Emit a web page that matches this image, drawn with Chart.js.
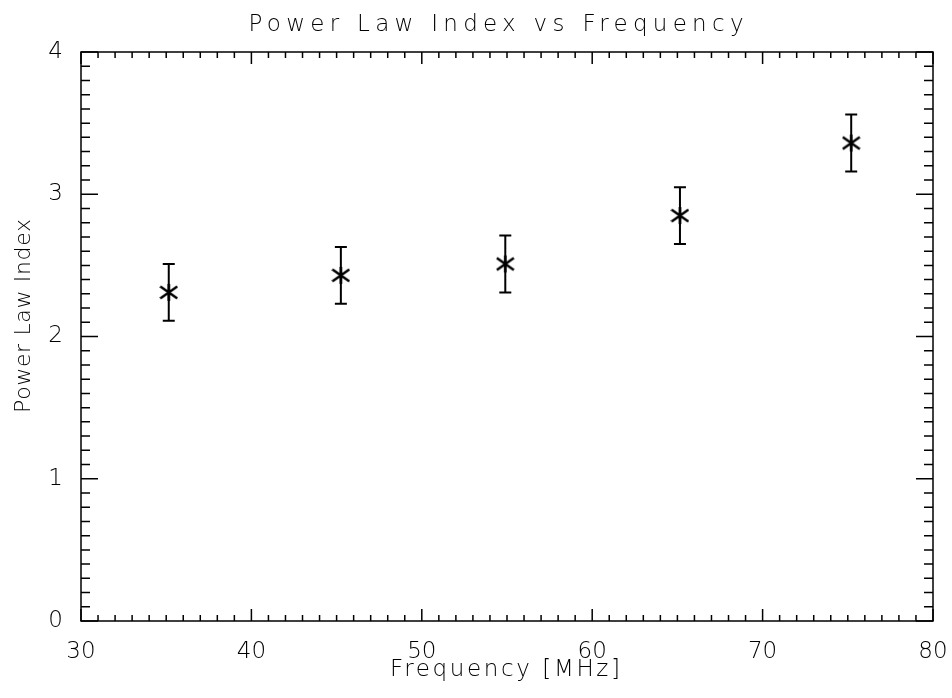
<!DOCTYPE html>
<html>
<head>
<meta charset="utf-8">
<title>Power Law Index vs Frequency</title>
<script src="https://cdn.jsdelivr.net/npm/chart.js@4.4.1/dist/chart.umd.min.js"></script>
<style>
    html, body { margin: 0; padding: 0; background: #fff; }
    #wrap { width: 952px; height: 698px; }
</style>
</head>
<body>
<div id="wrap"><canvas id="chart" width="952" height="698"></canvas></div>
<script>
// values
const frequencies = [35.15, 45.25, 54.9, 65.15, 75.2];   // MHz
const powerIndex = [2.31, 2.43, 2.51, 2.85, 3.36];
const indexError = [0.2, 0.2, 0.2, 0.2, 0.2];

const xRange = [30, 80];
const yRange = [0, 4];
const xMajorStep = 10;
const yMajorStep = 1;
const xMinorPerMajor = 10;
const yMinorPerMajor = 10;

const titleText = "Power Law Index vs Frequency";
const xTitleText = "Frequency [MHz]";
const yTitleText = "Power Law Index";

const FONT = "'DejaVu Sans', sans-serif";
const INK = "#000";

// asterisk marker, drawn once on a small canvas
function makeAsterisk(size) {
    const c = document.createElement("canvas");
    c.width = size;
    c.height = size;
    const g = c.getContext("2d");
    const h = size / 2;
    g.strokeStyle = INK;
    g.lineWidth = 2.5;
    g.beginPath();
    g.moveTo(h, 1); g.lineTo(h, size - 1);
    g.moveTo(1, h - 6); g.lineTo(size - 1, h + 6);
    g.moveTo(1, h + 6); g.lineTo(size - 1, h - 6);
    g.stroke();
    return c;
}

// draws text stretched to a target width with letter spacing
function spacedText(ctx, text, x, y, width, size) {
    ctx.font = "200 " + size + "px " + FONT;
    ctx.letterSpacing = "0px";
    const w0 = ctx.measureText(text).width;
    const s = Math.max(0, (width - w0) / (text.length - 1));
    ctx.letterSpacing = s + "px";
    ctx.textAlign = "left";
    ctx.textBaseline = "middle";
    ctx.fillText(text, x - width / 2, y);
    ctx.letterSpacing = "0px";
}

const errorBars = {
    id: "errorBars",
    beforeDatasetsDraw(chart) {
        const { ctx, scales } = chart;
        ctx.save();
        ctx.strokeStyle = INK;
        ctx.lineWidth = 2;
        frequencies.forEach((f, i) => {
            const x = scales.x.getPixelForValue(f);
            const yt = scales.y.getPixelForValue(powerIndex[i] + indexError[i]);
            const yb = scales.y.getPixelForValue(powerIndex[i] - indexError[i]);
            ctx.beginPath();
            ctx.moveTo(x, yt); ctx.lineTo(x, yb);
            ctx.moveTo(x - 6, yt); ctx.lineTo(x + 6, yt);
            ctx.moveTo(x - 6, yb); ctx.lineTo(x + 6, yb);
            ctx.stroke();
        });
        ctx.restore();
    }
};

// box around the plot with inward ticks on all four sides
const frameTicks = {
    id: "frameTicks",
    afterDraw(chart) {
        const { ctx, chartArea: a, scales } = chart;
        ctx.save();
        ctx.strokeStyle = INK;
        ctx.lineWidth = 1.5;
        ctx.strokeRect(a.left, a.top, a.right - a.left, a.bottom - a.top);

        ctx.beginPath();
        const xStep = xMajorStep / xMinorPerMajor;
        const nx = Math.round((xRange[1] - xRange[0]) / xStep);
        for (let k = 0; k <= nx; k++) {
            const px = scales.x.getPixelForValue(xRange[0] + k * xStep);
            const len = k % xMinorPerMajor === 0 ? 12 : 6;
            ctx.moveTo(px, a.bottom); ctx.lineTo(px, a.bottom - len);
            ctx.moveTo(px, a.top); ctx.lineTo(px, a.top + len);
        }
        const yStep = yMajorStep / yMinorPerMajor;
        const ny = Math.round((yRange[1] - yRange[0]) / yStep);
        for (let k = 0; k <= ny; k++) {
            const py = scales.y.getPixelForValue(yRange[0] + k * yStep);
            const len = k % yMinorPerMajor === 0 ? 17 : 9;
            ctx.moveTo(a.left, py); ctx.lineTo(a.left + len, py);
            ctx.moveTo(a.right, py); ctx.lineTo(a.right - len, py);
        }
        ctx.stroke();

        // titles
        ctx.fillStyle = INK;
        const cx = (a.left + a.right) / 2;
        spacedText(ctx, titleText, cx - 11, 25, 495, 23);
        spacedText(ctx, xTitleText, cx - 2, 670, 230, 23);
        ctx.translate(24, 316);
        ctx.rotate(-Math.PI / 2);
        spacedText(ctx, yTitleText, 0, 0, 194, 22);
        ctx.restore();
    }
};

const points = frequencies.map((f, i) => ({ x: f, y: powerIndex[i] }));

new Chart(document.getElementById("chart"), {
    type: "scatter",
    data: {
        datasets: [{
            data: points,
            pointStyle: makeAsterisk(19),
            pointRadius: 9,
            pointHoverRadius: 9,
        }],
    },
    options: {
        responsive: false,
        animation: false,
        devicePixelRatio: 1,
        layout: { padding: { left: 0, right: 19, top: 52, bottom: 0 } },
        plugins: {
            legend: { display: false },
            tooltip: { enabled: false },
        },
        scales: {
            x: {
                type: "linear",
                min: xRange[0],
                max: xRange[1],
                grid: { display: false },
                border: { display: false },
                ticks: {
                    stepSize: xMajorStep,
                    color: INK,
                    padding: 9,
                    maxRotation: 0,
                    font: { family: FONT, size: 23, weight: 200 },
                },
                afterFit(scale) {
                    scale.height = 77;
                    scale.paddingLeft = 0;
                    scale.paddingRight = 0;
                },
            },
            y: {
                type: "linear",
                min: yRange[0],
                max: yRange[1],
                grid: { display: false },
                border: { display: false },
                ticks: {
                    stepSize: yMajorStep,
                    color: INK,
                    padding: 10,
                    font: { family: FONT, size: 23, weight: 200 },
                },
                afterFit(scale) {
                    scale.width = 81;
                    scale.paddingTop = 0;
                    scale.paddingBottom = 0;
                },
            },
        },
    },
    plugins: [errorBars, frameTicks],
});
</script>
</body>
</html>
